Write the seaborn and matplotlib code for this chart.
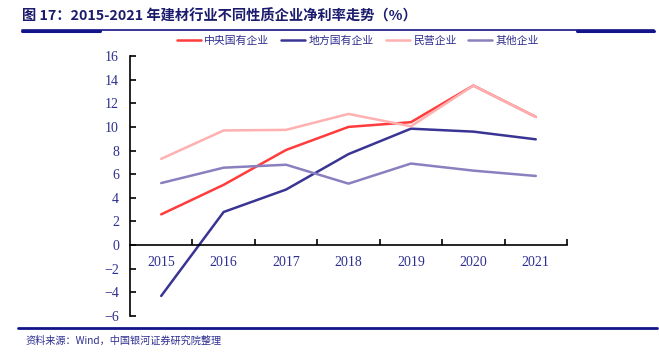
import pandas as pd
import matplotlib.pyplot as plt
import seaborn as sns
from matplotlib.ticker import FixedLocator, NullFormatter

# Data
years = ['2015', '2016', '2017', '2018', '2019', '2020', '2021']
central_soe = [2.6, 5.1, 8.05, 10.0, 10.4, 13.5, 10.85]
local_soe = [-4.3, 2.8, 4.7, 7.7, 9.85, 9.6, 8.95]
private_ent = [7.3, 9.7, 9.75, 11.1, 10.05, 13.5, 10.85]
other_ent = [5.25, 6.55, 6.8, 5.2, 6.9, 6.3, 5.85]

series_names = ['中央国有企业', '地方国有企业', '民营企业', '其他企业']
series_colors = ['#FF3B3B', '#3A3494', '#FFB0B0', '#8A80C0']

df = pd.DataFrame({'年份': years,
                   '中央国有企业': central_soe,
                   '地方国有企业': local_soe,
                   '民营企业': private_ent,
                   '其他企业': other_ent})
df_long = df.melt(id_vars='年份', var_name='类型', value_name='净利率')

sns.set_style('white')
plt.rcParams['font.family'] = ['Liberation Serif', 'Noto Sans CJK SC', 'DejaVu Sans']
navy = '#2E2E8F'

fig = plt.figure(figsize=(6.59, 3.57), dpi=100)
ax = fig.add_axes([130 / 659, 41 / 357, 437 / 659, 260 / 357])

sns.lineplot(data=df_long, x='年份', y='净利率', hue='类型', hue_order=series_names,
             palette=series_colors, linewidth=1.8, ax=ax, legend=False, sort=False)

ax.set_xlim(-0.5, 6.5)
ax.set_ylim(-6, 16)
ax.set_yticks(range(-6, 17, 2))
ax.set_yticklabels([str(v).replace('-', '\u2212') for v in range(-6, 17, 2)])
ax.set_xlabel('')
ax.set_ylabel('')

# axis styling: left spine and zero line
for s in ['top', 'right']:
    ax.spines[s].set_visible(False)
ax.spines['bottom'].set_position(('data', 0))
for s in ['left', 'bottom']:
    ax.spines[s].set_color('black')
    ax.spines[s].set_linewidth(1.2)

ax.tick_params(axis='y', direction='in', length=4, width=1.2, colors='black',
               labelcolor=navy, labelsize=10, pad=8, left=True)
ax.set_xticks(range(len(years)))
ax.set_xticklabels(years)
ax.tick_params(axis='x', which='major', length=0, labelcolor=navy, labelsize=10, pad=8)
ax.xaxis.set_minor_locator(FixedLocator([i + 0.5 for i in range(len(years))]))
ax.xaxis.set_minor_formatter(NullFormatter())
ax.tick_params(axis='x', which='minor', direction='in', length=4, width=1.2, colors='black', bottom=True)

# legend
handles = [plt.Line2D([], [], color=c, linewidth=1.8) for c in series_colors]
leg = fig.legend(handles, series_names, loc='center', bbox_to_anchor=(358 / 659, 1 - 41 / 357),
                 ncol=4, frameon=False, handlelength=2.2, handletextpad=0.3,
                 columnspacing=1.1, prop={'family': ['Noto Sans CJK SC'], 'size': 7.8})
for t in leg.get_texts():
    t.set_color(navy)

# title, rules and source
fig.text(22 / 659, 1 - 16 / 357, '图 17：2015-2021 年建材行业不同性质企业净利率走势（%）',
         fontsize=10.3, fontweight='bold', color='#1C1C6E', va='center', ha='left',
         family=['Noto Sans CJK SC'])
fig.add_artist(plt.Line2D([22 / 659, 654 / 659], [1 - 30 / 357] * 2, color='#14148A', linewidth=1.2))
fig.add_artist(plt.Line2D([22 / 659, 100 / 659], [1 - 30.5 / 357] * 2, color='#14148A', linewidth=2.2))
fig.add_artist(plt.Line2D([577 / 659, 654 / 659], [1 - 30.5 / 357] * 2, color='#14148A', linewidth=2.2))
fig.add_artist(plt.Line2D([18 / 659, 657 / 659], [1 - 328 / 357] * 2, color='#14148A', linewidth=2.0))
fig.text(25 / 659, 1 - 341 / 357, '资料来源：Wind，中国银河证券研究院整理', fontsize=7.3,
         style='italic', color=navy, va='center', ha='left',
         family=['Noto Sans CJK SC'])

fig.savefig('out.png', dpi=100)
